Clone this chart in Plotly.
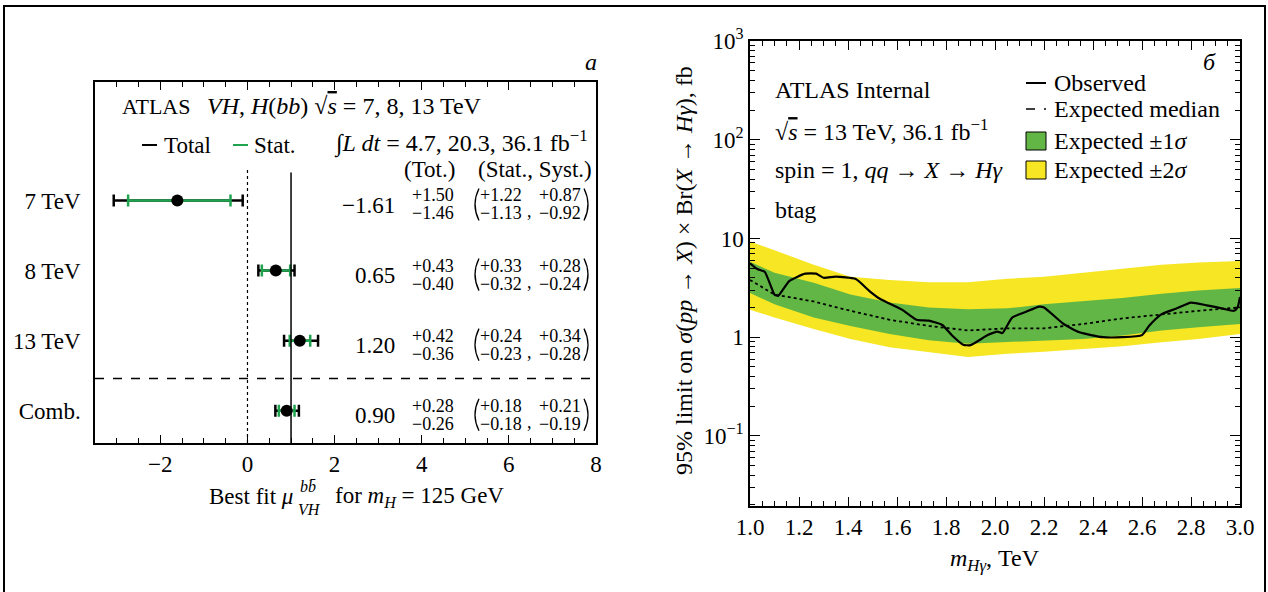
import math
import plotly.graph_objects as go

W, H = 1268, 592
SERIF = "Liberation Serif, Times New Roman, serif"


def px(x):
    return x / W


def py(y):
    return 1 - y / H


# ---------------- panel a: signal strength per dataset ----------------
rows = ["7 TeV", "8 TeV", "13 TeV", "Comb."]
row_pos = [3, 2, 1, 0]
mu = [-1.61, 0.65, 1.20, 0.90]
tot_up = [1.50, 0.43, 0.42, 0.28]
tot_dn = [1.46, 0.40, 0.36, 0.26]
stat_up = [1.22, 0.33, 0.24, 0.18]
stat_dn = [1.13, 0.32, 0.23, 0.18]
syst_up = [0.87, 0.28, 0.34, 0.21]
syst_dn = [0.92, 0.24, 0.28, 0.19]
mu_ticks = [-2, 0, 2, 4, 6, 8]

# ---------------- panel b: cross-section limits ----------------
mass_obs = [1.00, 1.03, 1.06, 1.10, 1.115, 1.16, 1.225, 1.27, 1.30, 1.35, 1.43,
            1.49, 1.53, 1.62, 1.68, 1.73, 1.785, 1.825, 1.87, 1.90, 1.97, 2.01,
            2.03, 2.07, 2.125, 2.18, 2.20, 2.28, 2.345, 2.44, 2.52, 2.60, 2.63,
            2.68, 2.74, 2.80, 2.865, 2.93, 2.975, 2.99, 3.00]
obs = [5.6, 4.9, 4.6, 2.7, 2.62, 3.7, 4.4, 4.4, 4.0, 4.1, 3.9,
       2.9, 2.45, 1.9, 1.5, 1.47, 1.33, 1.04, 0.84, 0.83, 1.05, 1.14,
       1.10, 1.58, 1.8, 2.04, 2.0, 1.36, 1.12, 1.0, 1.0, 1.05, 1.31,
       1.71, 1.95, 2.24, 2.1, 1.95, 1.85, 2.0, 2.55]

mass_exp = [1.00, 1.10, 1.26, 1.41, 1.57, 1.73, 1.89, 2.05, 2.20, 2.36, 2.52,
            2.68, 2.83, 3.00]
exp_med = [3.8, 2.7, 2.3, 1.85, 1.5, 1.3, 1.17, 1.23, 1.23, 1.36, 1.55,
           1.71, 1.85, 2.0]
sig1_hi = [5.8, 4.5, 3.55, 2.7, 2.24, 2.0, 1.92, 1.96, 2.15, 2.3, 2.5,
           2.75, 2.97, 3.15]
sig1_lo = [2.8, 2.15, 1.58, 1.3, 1.08, 0.93, 0.86, 0.89, 0.93, 0.96, 1.04,
           1.17, 1.26, 1.36]
sig2_hi = [9.3, 7.6, 5.4, 4.1, 3.8, 3.6, 3.6, 3.9, 4.1, 4.5, 4.9,
           5.4, 5.7, 5.9]
sig2_lo = [1.9, 1.58, 1.21, 0.96, 0.79, 0.71, 0.63, 0.68, 0.71, 0.76, 0.81,
           0.89, 0.96, 1.08]

limit_ticks = [0.1, 1, 10, 100, 1000]
limit_ticktext = ["10<sup>\u22121</sup>", "1", "10", "10<sup>2</sup>", "10<sup>3</sup>"]

GREEN_STAT = "#1fa34f"
YELLOW = "#f6e623"
GREEN = "#62b646"


def fmt(v):
    return f"{v:.2f}".replace("-", "\u2212")


fig = go.Figure()

# total uncertainty (black bars, no visible marker)
fig.add_trace(go.Scatter(
    x=mu, y=row_pos, mode="markers", xaxis="x", yaxis="y",
    marker=dict(size=1, color="black", opacity=0),
    error_x=dict(type="data", symmetric=False, array=tot_up, arrayminus=tot_dn,
                 color="black", thickness=2.5, width=6),
    showlegend=False, hoverinfo="skip"))
# statistical uncertainty (green bars) and central values
fig.add_trace(go.Scatter(
    x=mu, y=row_pos, mode="markers", xaxis="x", yaxis="y",
    marker=dict(size=12, color="black"),
    error_x=dict(type="data", symmetric=False, array=stat_up, arrayminus=stat_dn,
                 color=GREEN_STAT, thickness=2.5, width=6),
    showlegend=False))

# limit bands
fig.add_trace(go.Scatter(x=mass_exp, y=sig2_lo, mode="lines", line=dict(width=0),
                         xaxis="x2", yaxis="y2", showlegend=False, hoverinfo="skip"))
fig.add_trace(go.Scatter(x=mass_exp, y=sig2_hi, mode="lines", line=dict(width=0),
                         fill="tonexty", fillcolor=YELLOW,
                         xaxis="x2", yaxis="y2", showlegend=False))
fig.add_trace(go.Scatter(x=mass_exp, y=sig1_lo, mode="lines", line=dict(width=0),
                         xaxis="x2", yaxis="y2", showlegend=False, hoverinfo="skip"))
fig.add_trace(go.Scatter(x=mass_exp, y=sig1_hi, mode="lines", line=dict(width=0),
                         fill="tonexty", fillcolor=GREEN,
                         xaxis="x2", yaxis="y2", showlegend=False))
fig.add_trace(go.Scatter(x=mass_exp, y=exp_med, mode="lines",
                         line=dict(color="black", width=1.8, dash="dot"),
                         xaxis="x2", yaxis="y2", showlegend=False))
fig.add_trace(go.Scatter(x=mass_obs, y=obs, mode="lines",
                         line=dict(color="black", width=2.2, shape="spline", smoothing=0.5),
                         xaxis="x2", yaxis="y2", showlegend=False))

shapes = []
# reference lines in panel a
shapes.append(dict(type="line", xref="x", yref="y", x0=1, x1=1, y0=-0.46, y1=3.4,
                   line=dict(color="black", width=1.5)))
shapes.append(dict(type="line", xref="x", yref="y", x0=0, x1=0, y0=-0.46, y1=3.45,
                   line=dict(color="black", width=1.2, dash="dot")))
shapes.append(dict(type="line", xref="x", yref="y", x0=-3.5, x1=8, y0=0.46, y1=0.46,
                   line=dict(color="black", width=1.3, dash="dash")))
# tall brackets around the (stat, syst) pairs
for r in row_pos:
    yc = r - 4 / 70.0
    h = 16 / 70.0
    for xa, xb in ((479, 471), (584, 592)):
        shapes.append(dict(type="path", xref="paper", yref="y",
                           path=f"M {px(xa)},{yc + h} Q {px(xb)},{yc} {px(xa)},{yc - h}",
                           line=dict(color="black", width=1.3)))
# panel a legend samples
shapes.append(dict(type="line", xref="paper", yref="paper", x0=px(142), x1=px(157),
                   y0=py(145), y1=py(145), line=dict(color="black", width=2)))
shapes.append(dict(type="line", xref="paper", yref="paper", x0=px(233), x1=px(248),
                   y0=py(145), y1=py(145), line=dict(color=GREEN_STAT, width=2)))
# panel b legend samples
shapes.append(dict(type="line", xref="paper", yref="paper", x0=px(1026), x1=px(1046),
                   y0=py(83), y1=py(83), line=dict(color="black", width=2)))
shapes.append(dict(type="line", xref="paper", yref="paper", x0=px(1026), x1=px(1046),
                   y0=py(109), y1=py(109), line=dict(color="black", width=1.5, dash="dash")))
shapes.append(dict(type="rect", xref="paper", yref="paper", x0=px(1026), x1=px(1046),
                   y0=py(150), y1=py(132), fillcolor=GREEN, line=dict(color="black", width=1)))
shapes.append(dict(type="rect", xref="paper", yref="paper", x0=px(1026), x1=px(1046),
                   y0=py(179), y1=py(161), fillcolor=YELLOW, line=dict(color="black", width=1)))
# outer frame
shapes.append(dict(type="line", xref="paper", yref="paper", x0=px(3), x1=px(1266),
                   y0=py(6), y1=py(6), line=dict(color="black", width=2)))
shapes.append(dict(type="line", xref="paper", yref="paper", x0=px(4), x1=px(4),
                   y0=py(6), y1=py(592), line=dict(color="black", width=2)))
shapes.append(dict(type="line", xref="paper", yref="paper", x0=px(1265), x1=px(1265),
                   y0=py(6), y1=py(592), line=dict(color="black", width=2)))

ann = []


def text(x, y, s, size=20, xanchor="left", yanchor="middle", xref="paper", yref="paper",
         yshift=0, angle=0):
    ann.append(dict(x=x, y=y, xref=xref, yref=yref, text=s, showarrow=False,
                    xanchor=xanchor, yanchor=yanchor, yshift=yshift, textangle=angle,
                    font=dict(family=SERIF, size=size, color="black")))


OVER_S = "\u221a<span style='text-decoration:overline'><i>s</i></span>"

# panel a header
text(px(591), py(62), "<i>a</i>", 24, xanchor="center")
text(px(120), py(106), "ATLAS", 22)
text(px(205), py(106), "<i>VH</i>,&nbsp;<i>H</i>(<i>bb</i>)&nbsp;" + OVER_S + " = 7, 8, 13 TeV", 24)
text(px(162), py(145), "Total", 23)
text(px(252), py(145), "Stat.", 23)
text(px(590), py(142), "\u222b<i>L dt</i> = 4.7, 20.3, 36.1 fb<sup>\u22121</sup>", 24, xanchor="right")
text(px(429), py(169), "(Tot.)", 23, xanchor="center")
text(px(594), py(169), "(Stat., Syst.)", 23, xanchor="right")

# per-row numbers
for r, m, tu, td, su, sd, yu, yd in zip(row_pos, mu, tot_up, tot_dn, stat_up, stat_dn,
                                         syst_up, syst_dn):
    text(px(397), r, fmt(m), 23, xanchor="right", yref="y", yshift=-5)
    text(px(410), r, "+" + fmt(tu), 18, yref="y", yshift=5)
    text(px(410), r, "\u2212" + fmt(td), 18, yref="y", yshift=-13)
    text(px(524), r, "+" + fmt(su), 18, xanchor="right", yref="y", yshift=5)
    text(px(524), r, "\u2212" + fmt(sd), 18, xanchor="right", yref="y", yshift=-13)
    text(px(525), r, ",", 18, yref="y", yshift=-11)
    text(px(583), r, "+" + fmt(yu), 18, xanchor="right", yref="y", yshift=5)
    text(px(583), r, "\u2212" + fmt(yd), 18, xanchor="right", yref="y", yshift=-13)

# panel a axis title
text(px(207), py(497), "Best fit <i>\u03bc</i>", 23)
text(px(298), py(486), "<i>bb\u0304</i>", 16)
text(px(296), py(509), "<i>VH</i>", 16)
text(px(333), py(497), "for <i>m</i><sub><i>H</i></sub> = 125 GeV", 23)

# panel b annotations
text(px(1209), py(62), "<i>\u0431</i>", 24, xanchor="center")
text(px(773), py(90), "ATLAS Internal", 24)
text(px(773), py(130), OVER_S + " = 13 TeV, 36.1 fb<sup>\u22121</sup>", 24)
text(px(773), py(170), "spin = 1, <i>qq</i> \u2192 <i>X</i> \u2192 <i>H\u03b3</i>", 24)
text(px(773), py(210), "btag", 24)
text(px(1052), py(83), "Observed", 24)
text(px(1052), py(109), "Expected median", 24)
text(px(1052), py(141), "Expected \u00b11<i>\u03c3</i>", 24)
text(px(1052), py(170), "Expected \u00b12<i>\u03c3</i>", 24)
text(px(995), py(560), "<i>m</i><sub><i>H\u03b3</i></sub>, TeV", 24, xanchor="center")
text(px(684), py(271), "95% limit on <i>\u03c3</i>(<i>pp</i> \u2192 <i>X</i>) \u00d7 Br(<i>X</i> \u2192 <i>H\u03b3</i>), fb",
     24, xanchor="center", angle=-90)

minor_log = [k * 10 ** e for e in range(-2, 3) for k in range(2, 10) if k * 10 ** e < 1000]

axis_common = dict(showgrid=False, zeroline=False, showline=True, linecolor="black",
                   linewidth=1.5, tickcolor="black", automargin=False,
                   tickfont=dict(family=SERIF, size=23, color="black"))

fig.update_layout(
    width=W, height=H,
    margin=dict(l=0, r=0, t=0, b=0, autoexpand=False),
    paper_bgcolor="white", plot_bgcolor="white",
    showlegend=False,
    shapes=shapes, annotations=ann,
    xaxis=dict(domain=[px(95), px(596)], range=[-3.5, 8], anchor="y",
               tickvals=mu_ticks, ticktext=[str(v).replace("-", "\u2212") for v in mu_ticks],
               ticks="inside", ticklen=8, tickwidth=1.2, mirror="allticks",
               minor=dict(dtick=0.5, tick0=0, ticks="inside", ticklen=5, tickwidth=1.2,
                          tickcolor="black"),
               **axis_common),
    yaxis=dict(domain=[py(443), py(82)], range=[-0.46, 4.69], anchor="x",
               tickvals=row_pos, ticktext=rows, ticks="", mirror=True,
               ticklabelstandoff=8, **axis_common),
    xaxis2=dict(domain=[px(750), px(1240)], range=[1, 3], anchor="y2",
                tick0=1, dtick=0.2, tickformat=".1f",
                ticks="inside", ticklen=9, tickwidth=1.2, mirror="allticks",
                minor=dict(dtick=0.05, tick0=1, ticks="inside", ticklen=5, tickwidth=1.2,
                           tickcolor="black"),
                **axis_common),
    yaxis2=dict(domain=[py(506), py(41)], type="log", range=[math.log10(0.0195), 3],
                anchor="x2", tickvals=limit_ticks, ticktext=limit_ticktext,
                ticks="inside", ticklen=10, tickwidth=1.2, mirror="allticks",
                minor=dict(tickvals=minor_log, ticks="inside", ticklen=5, tickwidth=1.2,
                           tickcolor="black"),
                **axis_common),
)

fig.write_html("out.html")
